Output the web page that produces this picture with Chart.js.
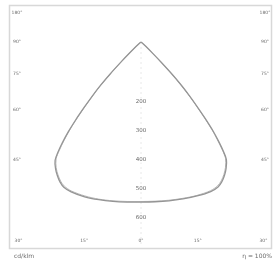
<!DOCTYPE html>
<html><head><meta charset="utf-8">
<script src="https://cdn.jsdelivr.net/npm/chart.js@4"></script>
<style>html,body{margin:0;padding:0;background:#fff;}canvas{display:block;}</style>
</head><body>
<canvas id="c" width="278" height="262"></canvas>
<script>
// Polar angles (degrees from nadir) and luminous intensity (cd/klm)
const angles      = [0,5,10,15,20,25,28,30,32,34,36,37,38,39,40,41,42,43,44,45,46,48,50,55,60,90,180];
const planeC0     = [552,553,556,560,565,569,566,557,543,525,501,472,435,395,345,295,250,205,150,95,55,22,8,0,0,0,0];
const planeC180   = [552,554,558,563,568,570,567,558,544,527,504,476,440,398,350,298,252,207,152,97,56,22,8,0,0,0,0];
const planeC90    = [550,551,554,558,563,566,562,553,539,521,496,466,428,388,338,290,244,200,146,92,52,20,7,0,0,0,0];
const planeC270   = [550,552,556,561,565,567,563,554,540,523,498,468,431,391,341,292,246,202,148,93,53,20,7,0,0,0,0];
const radialTicks = [200,300,400,500,600];
const sideAngles  = [90,75,60,45];
const bottomAngles= [-30,-15,0,15,30];
const topLabel    = "180°";
const unitLabel   = "cd/klm";
const effLabel    = "η = 100%";

function curve(left, right){
  const pts = [];
  for (let i = angles.length-1; i >= 0; i--) {
    const a = angles[i]*Math.PI/180;
    pts.push({x: -left[i]*Math.sin(a), y: -left[i]*Math.cos(a)});
  }
  for (let i = 1; i < angles.length; i++) {
    const a = angles[i]*Math.PI/180;
    pts.push({x: right[i]*Math.sin(a), y: -right[i]*Math.cos(a)});
  }
  return pts;
}

const K = 0.29; // px per cd/klm
const CX = 141, CY = 42;

const framePlugin = {
  id: 'frame',
  beforeDatasetsDraw(chart){
    const ctx = chart.ctx, xs = chart.scales.x, ys = chart.scales.y;
    ctx.save();
    ctx.strokeStyle = '#d8d8d8'; ctx.lineWidth = 1.5;
    ctx.strokeRect(9.5, 5.5, 262, 243);
    ctx.strokeStyle = '#e2e2e2'; ctx.lineWidth = 0.8; ctx.setLineDash([2,3]);
    ctx.beginPath();
    ctx.moveTo(xs.getPixelForValue(0), ys.getPixelForValue(0));
    ctx.lineTo(xs.getPixelForValue(0), ys.getPixelForValue(-700));
    ctx.stroke(); ctx.setLineDash([]);
    ctx.textAlign = 'center'; ctx.textBaseline = 'middle';
    ctx.font = '5.5px "DejaVu Sans"';
    radialTicks.forEach(v => {
      const px = xs.getPixelForValue(0), py = ys.getPixelForValue(-v);
      ctx.fillStyle = '#fff'; ctx.fillRect(px-6, py-1.5, 12, 6);
      ctx.fillStyle = '#666';
      ctx.fillText(String(v), px, py+1.5);
    });
    ctx.fillStyle = '#6a6a6a';
    ctx.font = '4.5px "DejaVu Sans"';
    const sideX = 124/K, sideD = 118/K;
    sideAngles.forEach(a => {
      const y = a === 90 ? 0 : -sideD/Math.tan(a*Math.PI/180);
      ctx.fillText(a+'°', xs.getPixelForValue(-sideX), ys.getPixelForValue(y));
      ctx.fillText(a+'°', xs.getPixelForValue(sideX), ys.getPixelForValue(y));
    });
    ctx.fillText(topLabel, xs.getPixelForValue(-sideX), ys.getPixelForValue(29/K));
    ctx.fillText(topLabel, xs.getPixelForValue(sideX), ys.getPixelForValue(29/K));
    const botD = 212/K, botY = -199/K;
    bottomAngles.forEach(a => {
      const x = botD*Math.tan(a*Math.PI/180);
      ctx.fillText(Math.abs(a)+'°', xs.getPixelForValue(x), ys.getPixelForValue(botY));
    });
    ctx.font = '6px "DejaVu Sans"';
    ctx.textAlign = 'left';
    ctx.fillText(unitLabel, 14, 256);
    ctx.textAlign = 'right';
    ctx.fillText(effLabel, 272, 256);
    ctx.restore();
  }
};

new Chart(document.getElementById('c'), {
  type: 'scatter',
  data: { datasets: [
    { data: curve(planeC180, planeC0), showLine: true, borderColor: '#959595', borderWidth: 1.3, pointRadius: 0, tension: 0.3, fill: false },
    { data: curve(planeC270, planeC90), showLine: true, borderColor: '#b8b8b8', borderWidth: 1, pointRadius: 0, tension: 0.3, fill: false }
  ]},
  options: {
    responsive: false, animation: false,
    layout: { padding: 0 },
    plugins: { legend: { display: false }, tooltip: { enabled: false } },
    scales: {
      x: { type: 'linear', display: false, min: -CX/K, max: (278-CX)/K },
      y: { type: 'linear', display: false, min: -(262-CY)/K, max: CY/K }
    }
  },
  plugins: [framePlugin]
});
</script>
</body></html>
